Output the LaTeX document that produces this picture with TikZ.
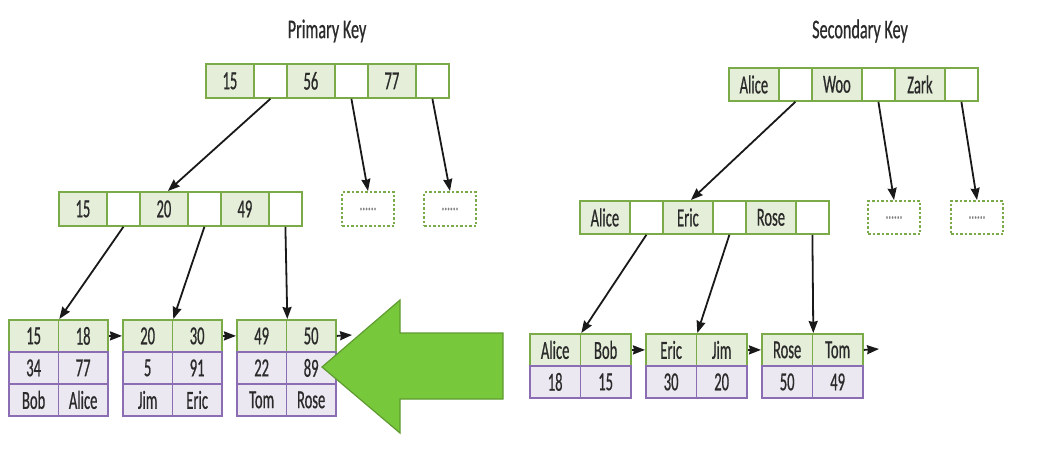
\documentclass[tikz,border=0pt]{standalone}
\usepackage{fontspec}
\setmainfont{Carlito}[FakeStretch=0.56]
\newfontfamily\cellfont{Carlito}[FakeStretch=0.56,FakeBold=0.6]
\newfontfamily\titlefont{Carlito}[FakeStretch=0.6,FakeBold=0.6]
\usetikzlibrary{arrows.meta}
\definecolor{gbd}{HTML}{7AAB48}
\definecolor{gfill}{HTML}{E5EED9}
\definecolor{pbd}{HTML}{8A6DB2}
\definecolor{pfill}{HTML}{ECE8F1}
\definecolor{txt}{HTML}{2A2A2A}
\definecolor{bigfill}{HTML}{78C83C}
\definecolor{bigbd}{HTML}{5E9B30}
\tikzset{
  cellbase/.style={draw, line width=1.8pt, inner sep=0pt, anchor=north west, font=\cellfont\fontsize{26}{26}\selectfont, text=txt},
  kc/.style={cellbase, draw=gbd, fill=gfill},
  bc/.style={cellbase, draw=gbd, fill=white},
  pc/.style={cellbase, draw=pbd, fill=pfill},
  dbox/.style={draw=gbd, line width=2pt, dash pattern=on 2.5pt off 2pt, fill=white, minimum width=52pt, minimum height=34pt, anchor=north west, inner sep=0pt, font=\cellfont\fontsize{20}{20}\selectfont, text=gray},
  conn/.style={-{Stealth[length=12pt,width=9pt,inset=1pt]}, line width=1.8pt, black!90},
  title/.style={font=\titlefont\fontsize{27}{27}\selectfont, text=txt},
}
\begin{document}
\begin{tikzpicture}[x=1pt,y=-1pt]
\useasboundingbox (0,0) rectangle (1052,448);
% ---------- Primary key ----------
\node[title] (pt) at (327,31) {Primary Key};
\begin{scope}[every node/.append style={minimum height=34pt}]
\node[kc,minimum width=48pt] (pr1) at (205,63) {15};
\node[bc,minimum width=33pt] (pr2) at (253,63) {};
\node[kc,minimum width=48pt] (pr3) at (286,63) {56};
\node[bc,minimum width=33pt] (pr4) at (334,63) {};
\node[kc,minimum width=48pt] (pr5) at (367,63) {77};
\node[bc,minimum width=33pt] (pr6) at (415,63) {};
\node[kc,minimum width=48pt] (pm1) at (58,191) {15};
\node[bc,minimum width=33pt] (pm2) at (106,191) {};
\node[kc,minimum width=48pt] (pm3) at (139,191) {20};
\node[bc,minimum width=33pt] (pm4) at (187,191) {};
\node[kc,minimum width=48pt] (pm5) at (220,191) {49};
\node[bc,minimum width=33pt] (pm6) at (268,191) {};
\end{scope}
\node[dbox] (pd1) at (341,191) {......};
\node[dbox] (pd2) at (423,191) {......};
\begin{scope}[every node/.append style={minimum height=32pt, minimum width=49.5pt}]
\node[kc] (pa1) at (8,319) {15};   \node[kc] (pa2) at (57.5,319) {18};
\node[pc] (pa3) at (8,351) {34};   \node[pc] (pa4) at (57.5,351) {77};
\node[pc] (pa5) at (8,383) {Bob};  \node[pc] (pa6) at (57.5,383) {Alice};
\node[kc] (pb1) at (122,319) {20};  \node[kc] (pb2) at (171.5,319) {30};
\node[pc] (pb3) at (122,351) {5};   \node[pc] (pb4) at (171.5,351) {91};
\node[pc] (pb5) at (122,383) {Jim}; \node[pc] (pb6) at (171.5,383) {Eric};
\node[kc] (pc1) at (236,319) {49};  \node[kc] (pc2) at (285.5,319) {50};
\node[pc] (pc3) at (236,351) {22};  \node[pc] (pc4) at (285.5,351) {89};
\node[pc] (pc5) at (236,383) {Tom}; \node[pc] (pc6) at (285.5,383) {Rose};
\end{scope}
\draw[conn] (pr2.south) -- ([xshift=4pt]pm3.north);
\draw[conn] (pr4.south) -- (pd1.north);
\draw[conn] (pr6.south) -- (pd2.north);
\draw[conn] (pm2.south) -- (pa1.north east);
\draw[conn] (pm4.south) -- (pb1.north east);
\draw[conn] (pm6.south) -- (pc1.north east);
\draw[conn] (pa2.east) -- (pb1.west);
\draw[conn] (pb2.east) -- (pc1.west);
\coordinate (pend) at (352,335);
\draw[conn] (pc2.east) -- (pend);
% big arrow
\draw[fill=bigfill, draw=bigbd, line width=1.2pt, line join=miter]
  (322,367) -- (400,300) -- (400,333) -- (503,333) -- (503,399) -- (400,399) -- (400,433) -- cycle;
% ---------- Secondary key ----------
\node[title] (st) at (860,31) {Secondary Key};
\begin{scope}[every node/.append style={minimum height=33pt}]
\node[kc,minimum width=50pt] (sr1) at (728,67) {Alice};
\node[bc,minimum width=33pt] (sr2) at (778,67) {};
\node[kc,minimum width=50pt] (sr3) at (811,67) {Woo};
\node[bc,minimum width=33pt] (sr4) at (861,67) {};
\node[kc,minimum width=50pt] (sr5) at (894,67) {Zark};
\node[bc,minimum width=33pt] (sr6) at (944,67) {};
\node[kc,minimum width=50pt] (sm1) at (579,200) {Alice};
\node[bc,minimum width=33pt] (sm2) at (629,200) {};
\node[kc,minimum width=50pt] (sm3) at (662,200) {Eric};
\node[bc,minimum width=33pt] (sm4) at (712,200) {};
\node[kc,minimum width=50pt] (sm5) at (745,200) {Rose};
\node[bc,minimum width=33pt] (sm6) at (795,200) {};
\end{scope}
\node[dbox, minimum height=33pt] (sd1) at (867,200) {......};
\node[dbox, minimum height=33pt] (sd2) at (950,200) {......};
\begin{scope}[every node/.append style={minimum height=32pt, minimum width=50.5pt}]
\node[kc] (sa1) at (529,333) {Alice}; \node[kc] (sa2) at (579.5,333) {Bob};
\node[pc] (sa3) at (529,365) {18};    \node[pc] (sa4) at (579.5,365) {15};
\node[kc] (sb1) at (645,333) {Eric};  \node[kc] (sb2) at (695.5,333) {Jim};
\node[pc] (sb3) at (645,365) {30};    \node[pc] (sb4) at (695.5,365) {20};
\node[kc] (sc1) at (761,333) {Rose};  \node[kc] (sc2) at (811.5,333) {Tom};
\node[pc] (sc3) at (761,365) {50};    \node[pc] (sc4) at (811.5,365) {49};
\end{scope}
\draw[conn] (sr2.south) -- ([xshift=3pt]sm3.north);
\draw[conn] (sr4.south) -- (sd1.north);
\draw[conn] (sr6.south) -- (sd2.north);
\draw[conn] (sm2.south) -- (sa1.north east);
\draw[conn] (sm4.south) -- (sb1.north east);
\draw[conn] (sm6.south) -- (sc1.north east);
\draw[conn] (sa2.east) -- (sb1.west);
\draw[conn] (sb2.east) -- (sc1.west);
\coordinate (send) at (879,349);
\draw[conn] (sc2.east) -- (send);
\end{tikzpicture}
\end{document}
